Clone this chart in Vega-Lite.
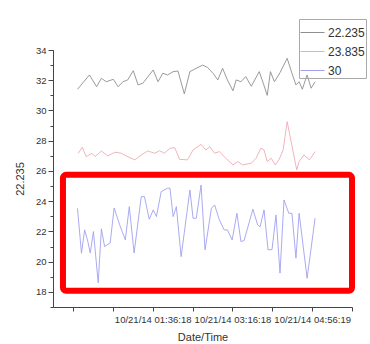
{
  "$schema": "https://vega.github.io/schema/vega-lite/v6.json",
  "width": 299,
  "height": 257,
  "autosize": {"type": "none"},
  "padding": {"left": 53, "top": 50, "right": 18, "bottom": 37},
  "background": "white",
  "config": {
    "view": {"stroke": null},
    "font": "Liberation Sans",
    "axis": {"domainColor": "#444", "tickColor": "#444", "labelColor": "#333", "titleColor": "#333", "labelFont": "Liberation Sans", "titleFont": "Liberation Sans", "titleFontWeight": "normal", "grid": false}
  },
  "datasets": {
    "series": [
      {"s": "22.235", "t": "2014-10-21T00:02:00", "v": 31.4},
      {"s": "22.235", "t": "2014-10-21T00:17:00", "v": 32.35},
      {"s": "22.235", "t": "2014-10-21T00:26:00", "v": 31.57},
      {"s": "22.235", "t": "2014-10-21T00:32:00", "v": 32.13},
      {"s": "22.235", "t": "2014-10-21T00:38:00", "v": 31.9},
      {"s": "22.235", "t": "2014-10-21T00:47:00", "v": 32.06},
      {"s": "22.235", "t": "2014-10-21T00:53:00", "v": 31.57},
      {"s": "22.235", "t": "2014-10-21T00:59:00", "v": 31.9},
      {"s": "22.235", "t": "2014-10-21T01:05:00", "v": 32.02},
      {"s": "22.235", "t": "2014-10-21T01:12:00", "v": 32.63},
      {"s": "22.235", "t": "2014-10-21T01:18:00", "v": 31.69},
      {"s": "22.235", "t": "2014-10-21T01:24:00", "v": 31.8},
      {"s": "22.235", "t": "2014-10-21T01:37:00", "v": 32.68},
      {"s": "22.235", "t": "2014-10-21T01:43:00", "v": 31.9},
      {"s": "22.235", "t": "2014-10-21T01:49:00", "v": 32.46},
      {"s": "22.235", "t": "2014-10-21T01:55:00", "v": 32.35},
      {"s": "22.235", "t": "2014-10-21T02:02:00", "v": 32.57},
      {"s": "22.235", "t": "2014-10-21T02:08:00", "v": 32.61},
      {"s": "22.235", "t": "2014-10-21T02:16:00", "v": 31.1},
      {"s": "22.235", "t": "2014-10-21T02:23:00", "v": 32.57},
      {"s": "22.235", "t": "2014-10-21T02:31:00", "v": 32.79},
      {"s": "22.235", "t": "2014-10-21T02:39:00", "v": 33.0},
      {"s": "22.235", "t": "2014-10-21T02:45:00", "v": 32.85},
      {"s": "22.235", "t": "2014-10-21T02:52:00", "v": 32.46},
      {"s": "22.235", "t": "2014-10-21T02:58:00", "v": 32.02},
      {"s": "22.235", "t": "2014-10-21T03:04:00", "v": 32.79},
      {"s": "22.235", "t": "2014-10-21T03:10:00", "v": 32.02},
      {"s": "22.235", "t": "2014-10-21T03:17:00", "v": 31.3},
      {"s": "22.235", "t": "2014-10-21T03:21:00", "v": 32.02},
      {"s": "22.235", "t": "2014-10-21T03:27:00", "v": 31.9},
      {"s": "22.235", "t": "2014-10-21T03:33:00", "v": 32.24},
      {"s": "22.235", "t": "2014-10-21T03:40:00", "v": 31.6},
      {"s": "22.235", "t": "2014-10-21T03:50:00", "v": 32.57},
      {"s": "22.235", "t": "2014-10-21T03:55:00", "v": 31.8},
      {"s": "22.235", "t": "2014-10-21T04:00:00", "v": 31.0},
      {"s": "22.235", "t": "2014-10-21T04:04:00", "v": 32.57},
      {"s": "22.235", "t": "2014-10-21T04:09:00", "v": 31.9},
      {"s": "22.235", "t": "2014-10-21T04:16:00", "v": 32.5},
      {"s": "22.235", "t": "2014-10-21T04:25:00", "v": 33.45},
      {"s": "22.235", "t": "2014-10-21T04:31:00", "v": 32.46},
      {"s": "22.235", "t": "2014-10-21T04:36:00", "v": 31.69},
      {"s": "22.235", "t": "2014-10-21T04:40:00", "v": 31.9},
      {"s": "22.235", "t": "2014-10-21T04:44:00", "v": 31.4},
      {"s": "22.235", "t": "2014-10-21T04:50:00", "v": 32.35},
      {"s": "22.235", "t": "2014-10-21T04:55:00", "v": 31.47},
      {"s": "22.235", "t": "2014-10-21T05:00:00", "v": 31.9},

      {"s": "23.835", "t": "2014-10-21T00:03:00", "v": 27.17},
      {"s": "23.835", "t": "2014-10-21T00:08:00", "v": 27.57},
      {"s": "23.835", "t": "2014-10-21T00:13:00", "v": 26.95},
      {"s": "23.835", "t": "2014-10-21T00:20:00", "v": 27.17},
      {"s": "23.835", "t": "2014-10-21T00:24:00", "v": 26.95},
      {"s": "23.835", "t": "2014-10-21T00:32:00", "v": 27.32},
      {"s": "23.835", "t": "2014-10-21T00:40:00", "v": 26.99},
      {"s": "23.835", "t": "2014-10-21T00:49:00", "v": 27.24},
      {"s": "23.835", "t": "2014-10-21T00:57:00", "v": 27.17},
      {"s": "23.835", "t": "2014-10-21T01:03:00", "v": 26.99},
      {"s": "23.835", "t": "2014-10-21T01:14:00", "v": 26.73},
      {"s": "23.835", "t": "2014-10-21T01:22:00", "v": 27.06},
      {"s": "23.835", "t": "2014-10-21T01:30:00", "v": 27.32},
      {"s": "23.835", "t": "2014-10-21T01:39:00", "v": 27.17},
      {"s": "23.835", "t": "2014-10-21T01:45:00", "v": 27.34},
      {"s": "23.835", "t": "2014-10-21T01:51:00", "v": 27.17},
      {"s": "23.835", "t": "2014-10-21T01:58:00", "v": 27.5},
      {"s": "23.835", "t": "2014-10-21T02:04:00", "v": 27.54},
      {"s": "23.835", "t": "2014-10-21T02:10:00", "v": 26.77},
      {"s": "23.835", "t": "2014-10-21T02:20:00", "v": 26.73},
      {"s": "23.835", "t": "2014-10-21T02:27:00", "v": 27.39},
      {"s": "23.835", "t": "2014-10-21T02:37:00", "v": 27.76},
      {"s": "23.835", "t": "2014-10-21T02:43:00", "v": 27.39},
      {"s": "23.835", "t": "2014-10-21T02:48:00", "v": 27.61},
      {"s": "23.835", "t": "2014-10-21T02:54:00", "v": 27.17},
      {"s": "23.835", "t": "2014-10-21T03:00:00", "v": 27.28},
      {"s": "23.835", "t": "2014-10-21T03:08:00", "v": 26.84},
      {"s": "23.835", "t": "2014-10-21T03:17:00", "v": 26.4},
      {"s": "23.835", "t": "2014-10-21T03:23:00", "v": 26.62},
      {"s": "23.835", "t": "2014-10-21T03:29:00", "v": 26.4},
      {"s": "23.835", "t": "2014-10-21T03:40:00", "v": 26.51},
      {"s": "23.835", "t": "2014-10-21T03:46:00", "v": 26.84},
      {"s": "23.835", "t": "2014-10-21T03:52:00", "v": 27.5},
      {"s": "23.835", "t": "2014-10-21T03:56:00", "v": 27.39},
      {"s": "23.835", "t": "2014-10-21T04:00:00", "v": 26.62},
      {"s": "23.835", "t": "2014-10-21T04:05:00", "v": 26.84},
      {"s": "23.835", "t": "2014-10-21T04:10:00", "v": 26.4},
      {"s": "23.835", "t": "2014-10-21T04:15:00", "v": 26.77},
      {"s": "23.835", "t": "2014-10-21T04:20:00", "v": 27.4},
      {"s": "23.835", "t": "2014-10-21T04:25:00", "v": 29.26},
      {"s": "23.835", "t": "2014-10-21T04:32:00", "v": 27.39},
      {"s": "23.835", "t": "2014-10-21T04:37:00", "v": 26.07},
      {"s": "23.835", "t": "2014-10-21T04:40:00", "v": 26.62},
      {"s": "23.835", "t": "2014-10-21T04:46:00", "v": 27.06},
      {"s": "23.835", "t": "2014-10-21T04:53:00", "v": 26.73},
      {"s": "23.835", "t": "2014-10-21T05:00:00", "v": 27.28},

      {"s": "30", "t": "2014-10-21T00:02:00", "v": 23.53},
      {"s": "30", "t": "2014-10-21T00:07:00", "v": 20.56},
      {"s": "30", "t": "2014-10-21T00:11:00", "v": 22.1},
      {"s": "30", "t": "2014-10-21T00:15:00", "v": 21.33},
      {"s": "30", "t": "2014-10-21T00:18:00", "v": 20.57},
      {"s": "30", "t": "2014-10-21T00:22:00", "v": 21.99},
      {"s": "30", "t": "2014-10-21T00:28:00", "v": 18.6},
      {"s": "30", "t": "2014-10-21T00:32:00", "v": 22.17},
      {"s": "30", "t": "2014-10-21T00:36:00", "v": 21.0},
      {"s": "30", "t": "2014-10-21T00:43:00", "v": 21.24},
      {"s": "30", "t": "2014-10-21T00:48:00", "v": 23.55},
      {"s": "30", "t": "2014-10-21T00:55:00", "v": 22.43},
      {"s": "30", "t": "2014-10-21T01:02:00", "v": 21.44},
      {"s": "30", "t": "2014-10-21T01:07:00", "v": 23.64},
      {"s": "30", "t": "2014-10-21T01:13:00", "v": 20.57},
      {"s": "30", "t": "2014-10-21T01:22:00", "v": 24.3},
      {"s": "30", "t": "2014-10-21T01:26:00", "v": 24.3},
      {"s": "30", "t": "2014-10-21T01:32:00", "v": 22.8},
      {"s": "30", "t": "2014-10-21T01:37:00", "v": 23.42},
      {"s": "30", "t": "2014-10-21T01:41:00", "v": 22.98},
      {"s": "30", "t": "2014-10-21T01:47:00", "v": 24.63},
      {"s": "30", "t": "2014-10-21T01:55:00", "v": 24.86},
      {"s": "30", "t": "2014-10-21T01:58:00", "v": 24.86},
      {"s": "30", "t": "2014-10-21T02:02:00", "v": 22.98},
      {"s": "30", "t": "2014-10-21T02:06:00", "v": 23.64},
      {"s": "30", "t": "2014-10-21T02:12:00", "v": 20.33},
      {"s": "30", "t": "2014-10-21T02:23:00", "v": 24.74},
      {"s": "30", "t": "2014-10-21T02:27:00", "v": 22.87},
      {"s": "30", "t": "2014-10-21T02:31:00", "v": 22.87},
      {"s": "30", "t": "2014-10-21T02:37:00", "v": 25.07},
      {"s": "30", "t": "2014-10-21T02:42:00", "v": 20.78},
      {"s": "30", "t": "2014-10-21T02:50:00", "v": 23.53},
      {"s": "30", "t": "2014-10-21T02:54:00", "v": 23.75},
      {"s": "30", "t": "2014-10-21T03:00:00", "v": 22.76},
      {"s": "30", "t": "2014-10-21T03:06:00", "v": 22.1},
      {"s": "30", "t": "2014-10-21T03:10:00", "v": 22.1},
      {"s": "30", "t": "2014-10-21T03:16:00", "v": 21.44},
      {"s": "30", "t": "2014-10-21T03:22:00", "v": 23.2},
      {"s": "30", "t": "2014-10-21T03:27:00", "v": 21.33},
      {"s": "30", "t": "2014-10-21T03:31:00", "v": 21.4},
      {"s": "30", "t": "2014-10-21T03:42:00", "v": 23.47},
      {"s": "30", "t": "2014-10-21T03:48:00", "v": 22.43},
      {"s": "30", "t": "2014-10-21T03:51:00", "v": 22.3},
      {"s": "30", "t": "2014-10-21T03:56:00", "v": 23.42},
      {"s": "30", "t": "2014-10-21T04:01:00", "v": 20.78},
      {"s": "30", "t": "2014-10-21T04:06:00", "v": 20.8},
      {"s": "30", "t": "2014-10-21T04:11:00", "v": 23.09},
      {"s": "30", "t": "2014-10-21T04:16:00", "v": 19.24},
      {"s": "30", "t": "2014-10-21T04:21:00", "v": 24.08},
      {"s": "30", "t": "2014-10-21T04:27:00", "v": 23.2},
      {"s": "30", "t": "2014-10-21T04:31:00", "v": 23.2},
      {"s": "30", "t": "2014-10-21T04:36:00", "v": 20.23},
      {"s": "30", "t": "2014-10-21T04:40:00", "v": 23.2},
      {"s": "30", "t": "2014-10-21T04:50:00", "v": 18.9},
      {"s": "30", "t": "2014-10-21T05:00:00", "v": 22.87}
    ],
    "highlight": [
      {"t1": "2014-10-20T23:43:48", "t2": "2014-10-21T05:46:18", "v1": 25.74, "v2": 18.07}
    ]
  },
  "resolve": {"axis": {"y": "independent"}},
  "layer": [
    {
      "data": {"name": "series"},
      "mark": {"type": "line", "strokeWidth": 0.9, "clip": false},
      "encoding": {
        "x": {
          "field": "t", "type": "temporal",
          "scale": {"domain": [
            {"year": 2014, "month": 10, "date": 20, "hours": 23, "minutes": 31, "seconds": 18},
            {"year": 2014, "month": 10, "date": 21, "hours": 5, "minutes": 46, "seconds": 18}
          ]},
          "axis": {
            "title": "Date/Time",
            "titleFontSize": 11,
            "titlePadding": 8,
            "labelFontSize": 9.5,
            "labelPadding": 3,
            "tickSize": 4,
            "values": [
              {"year": 2014, "month": 10, "date": 20, "hours": 23, "minutes": 56, "seconds": 18},
              {"year": 2014, "month": 10, "date": 21, "hours": 0, "minutes": 46, "seconds": 18},
              {"year": 2014, "month": 10, "date": 21, "hours": 1, "minutes": 36, "seconds": 18},
              {"year": 2014, "month": 10, "date": 21, "hours": 2, "minutes": 26, "seconds": 18},
              {"year": 2014, "month": 10, "date": 21, "hours": 3, "minutes": 16, "seconds": 18},
              {"year": 2014, "month": 10, "date": 21, "hours": 4, "minutes": 6, "seconds": 18},
              {"year": 2014, "month": 10, "date": 21, "hours": 4, "minutes": 56, "seconds": 19},
              {"year": 2014, "month": 10, "date": 21, "hours": 5, "minutes": 46, "seconds": 18}
            ],
            "labelExpr": "indexof(['01:36','03:16','04:56'], timeFormat(datum.value,'%H:%M')) >= 0 ? timeFormat(datum.value, '%m/%d/%y %H:%M:%S') : ''"
          }
        },
        "y": {
          "field": "v", "type": "quantitative",
          "scale": {"domain": [17, 34], "nice": false, "zero": false},
          "axis": {
            "orient": "left",
            "title": "22.235",
            "titleFontSize": 11,
            "titlePadding": 10,
            "labelFontSize": 9.5,
            "labelPadding": 2,
            "labelOverlap": false,
            "tickSize": 5,
            "values": [18, 20, 22, 24, 26, 28, 30, 32, 34]
          }
        },
        "color": {
          "field": "s", "type": "nominal",
          "scale": {"domain": ["22.235", "23.835", "30"], "range": ["#8f8f8f", "#f0aab3", "#a0a0f0"]},
          "legend": {
            "title": null,
            "orient": "none",
            "legendX": 246,
            "legendY": -31,
            "strokeColor": "#aaa",
            "padding": 1,
            "symbolType": "stroke",
            "symbolSize": 576,
            "symbolStrokeWidth": 1,
            "labelFontSize": 12,
            "labelOffset": 3,
            "labelColor": "#333",
            "labelFont": "Liberation Sans",
            "rowPadding": -14
          }
        }
      }
    },
    {
      "data": {"name": "highlight"},
      "mark": {"type": "rect", "fill": null, "stroke": "#ff0000", "strokeWidth": 6, "cornerRadius": 3, "clip": false},
      "encoding": {
        "x": {"field": "t1", "type": "temporal"},
        "x2": {"field": "t2"},
        "y": {
          "field": "v1", "type": "quantitative",
          "axis": {
            "orient": "left",
            "values": [17, 18, 19, 20, 21, 22, 23, 24, 25, 26, 27, 28, 29, 30, 31, 32, 33, 34],
            "tickSize": 3,
            "labels": false,
            "domain": false,
            "title": null
          }
        },
        "y2": {"field": "v2"}
      }
    }
  ]
}
